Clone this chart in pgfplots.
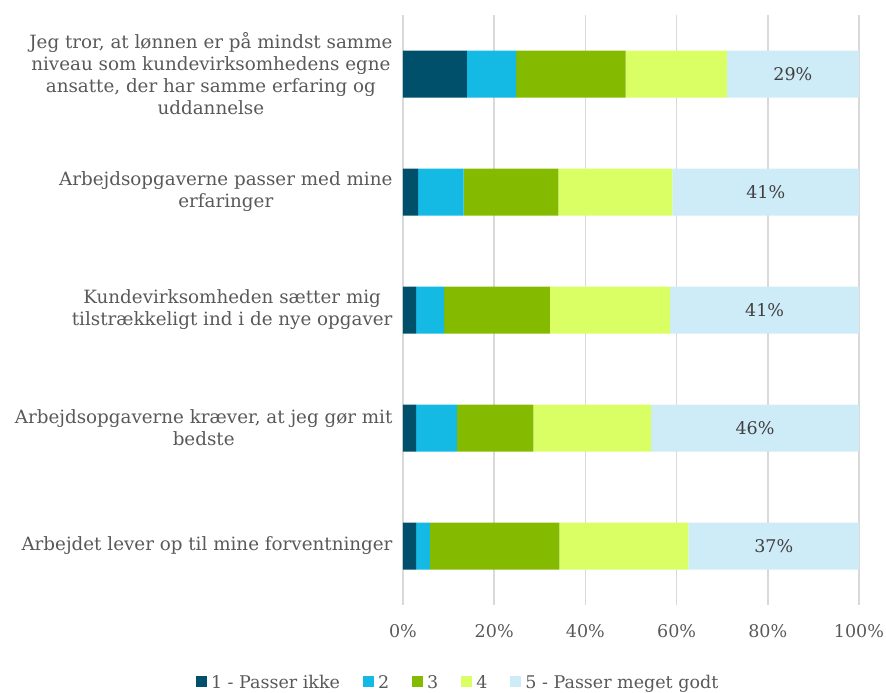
\documentclass[border=0pt]{standalone}
\usepackage{fontspec}
\setmainfont{DejaVu Serif}
\usepackage{pgfplots}
\pgfplotsset{compat=1.18}

\definecolor{c1}{HTML}{004F6B}
\definecolor{c2}{HTML}{14B9E4}
\definecolor{c3}{HTML}{84BA00}
\definecolor{c4}{HTML}{DAFF64}
\definecolor{c5}{HTML}{CEEBF8}
\definecolor{gridgray}{HTML}{D9D9D9}
\definecolor{labelgray}{HTML}{595959}
\definecolor{valgray}{HTML}{404040}

\begin{document}
\begin{tikzpicture}
\useasboundingbox (-403pt,-88pt) rectangle (483pt,605pt);
\begin{axis}[
    at={(0pt,0pt)}, anchor=south west,
    scale only axis,
    width=456pt, height=590pt,
    xbar stacked,
    bar width=47pt,
    xmin=0, xmax=100,
    ymin=0.5, ymax=5.5,
    y dir=reverse,
    ytick={1,2,3,4,5},
    yticklabels={
        {Jeg tror, at lønnen er på mindst samme\\niveau som kundevirksomhedens egne\\ansatte, der har samme erfaring og\\uddannelse},
        {Arbejdsopgaverne passer med mine\\erfaringer},
        {Kundevirksomheden sætter mig\\tilstrækkeligt ind i de nye opgaver},
        {Arbejdsopgaverne kræver, at jeg gør mit\\bedste},
        {Arbejdet lever op til mine forventninger}
    },
    yticklabel style={align=center, font=\fontsize{18.3}{22}\selectfont, text=labelgray, xshift=-7pt},
    xtick={0,20,40,60,80,100},
    xticklabel={\pgfmathprintnumber{\tick}\%},
    xticklabel style={font=\fontsize{17.5}{20}\selectfont, text=labelgray, yshift=-16pt},
    /pgf/number format/assume math mode=true,
    xmajorgrids,
    grid style={draw=gridgray, line width=1.5pt},
    axis line style={draw=none},
    major tick style={draw=none},
    legend style={at={(0.121,-0.132)}, anchor=center, draw=none, legend columns=-1,
        font=\fontsize{17.5}{20}\selectfont, text=labelgray,
        /tikz/every odd column/.append style={column sep=2pt},
        /tikz/every even column/.append style={column sep=21pt}},
    legend image code/.code={\fill[#1] (0pt,-4pt) rectangle (11pt,7pt);},
]
\addplot[fill=c1, draw=none] coordinates {(14.0,1) (3.3,2) (2.9,3) (2.9,4) (2.9,5)};
\addplot[fill=c2, draw=none] coordinates {(10.8,1) (10.0,2) (6.1,3) (8.9,4) (3.0,5)};
\addplot[fill=c3, draw=none] coordinates {(24.0,1) (20.8,2) (23.2,3) (16.8,4) (28.4,5)};
\addplot[fill=c4, draw=none] coordinates {(22.2,1) (25.0,2) (26.4,3) (25.8,4) (28.3,5)};
\addplot[fill=c5, draw=none,
    point meta=explicit symbolic,
    nodes near coords={\pgfplotspointmeta\%},
    every node near coord/.append style={anchor=center,
        font=\fontsize{17.5}{20}\selectfont, text=valgray}]
    coordinates {(29.0,1) [29] (40.9,2) [41] (41.4,3) [41] (45.6,4) [46] (37.4,5) [37]};
\legend{1 - Passer ikke, 2, 3, 4, 5 - Passer meget godt}
\end{axis}
\end{tikzpicture}
\end{document}
